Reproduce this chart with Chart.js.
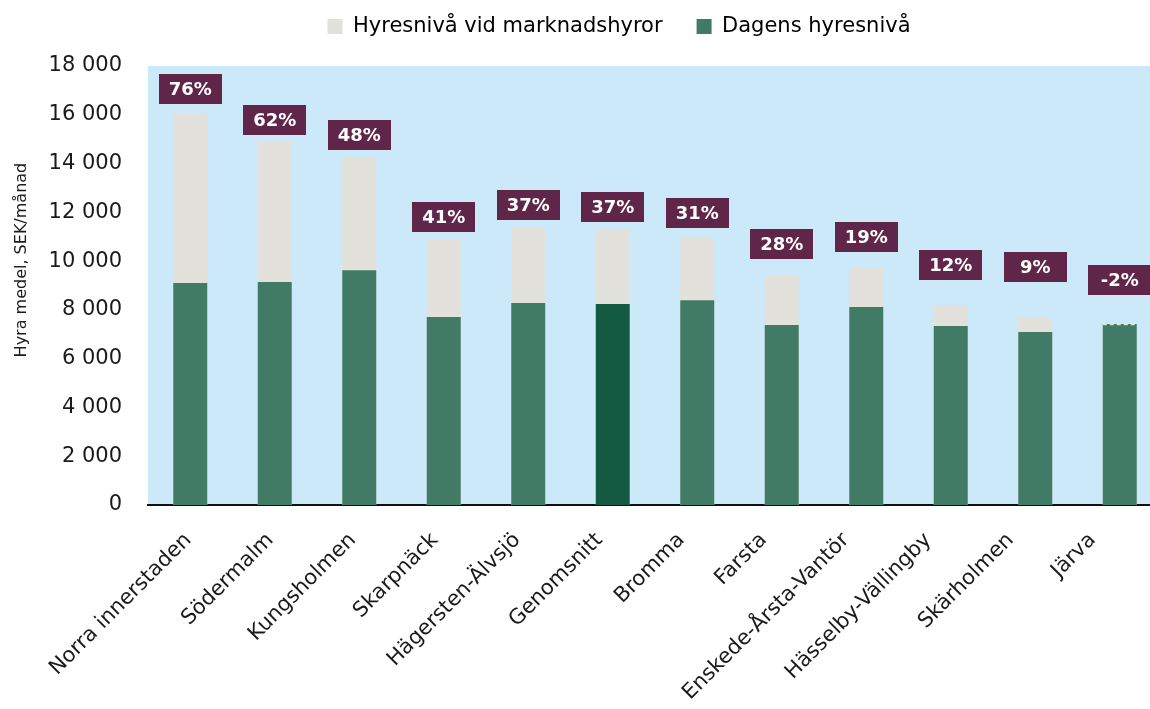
<!DOCTYPE html>
<html>
<head>
<meta charset="utf-8">
<script src="https://cdn.jsdelivr.net/npm/chart.js@4/dist/chart.umd.min.js"></script>
<style>
  html, body { margin: 0; padding: 0; background: #ffffff; }
  #wrap { width: 1150px; height: 709px; overflow: hidden; position: relative; }
  canvas { display: block; }
</style>
</head>
<body>
<div id="wrap"><canvas id="c" width="1162" height="709"></canvas></div>
<script>
// ---- data ----
const categories = ['Norra innerstaden', 'Södermalm', 'Kungsholmen', 'Skarpnäck', 'Hägersten-Älvsjö', 'Genomsnitt', 'Bromma', 'Farsta', 'Enskede-Årsta-Vantör', 'Hässelby-Vällingby', 'Skärholmen', 'Järva'];
const currentRent = [9100, 9140, 9630, 7710, 8280, 8240, 8400, 7380, 8120, 7340, 7090, 7420];
const marketRent = [16030, 14880, 14270, 10900, 11400, 11320, 10990, 9430, 9760, 8200, 7710, 7270];
const changeLabels = ['76%', '62%', '48%', '41%', '37%', '37%', '31%', '28%', '19%', '12%', '9%', '-2%'];
const labelAnchor = [17060, 15785, 15170, 11810, 12300, 12220, 11970, 10700, 10990, 9840, 9760, 9220];
const yTicks = [0, 2000, 4000, 6000, 8000, 10000, 12000, 14000, 16000, 18000];

const FONT = "'DejaVu Sans', Verdana, sans-serif";
const GREEN = '#417b66';
const GREEN_DARK = '#145a42';
const BEIGE = '#e3e1db';
const PURPLE = '#5f2649';
const BG = '#cce9f9';

const bgPlugin = {
  id: 'areaBg',
  beforeDraw(chart) {
    const {ctx, chartArea: a} = chart;
    ctx.save();
    ctx.fillStyle = BG;
    ctx.fillRect(a.left, a.top, a.right - a.left, a.bottom - a.top);
    ctx.restore();
  }
};

// layout tweaks: legend placement and category label spacing
const layoutTweaks = {
  id: 'layoutTweaks',
  afterLayout(chart) {
    const lg = chart.legend;
    if (lg) {
      const dx = 619 - (lg.left + lg.right) / 2;
      lg.left += dx; lg.right += dx;
      lg.top -= 19; lg.bottom -= 19;
    }
  },
  beforeDraw(chart) {
    const xs = chart.scales.x;
    const items = xs.getLabelItems(chart.chartArea);
    if (items._tweaked || !items.length) return;
    const x0 = items[0].options.translation[0];
    items.forEach(it => {
      const t = it.options.translation;
      t[0] = x0 + (t[0] - x0) * 0.973 - 2;
    });
    items._tweaked = true;
  }
};

const labelPlugin = {
  id: 'changeBoxes',
  afterDatasetsDraw(chart) {
    const {ctx, scales: {x, y}} = chart;
    ctx.save();
    const metaCur = chart.getDatasetMeta(0);
    categories.forEach((c, i) => {
      if (marketRent[i] < currentRent[i]) {
        const bar = metaCur.data[i];
        const half = bar.width / 2;
        ctx.strokeStyle = BEIGE;
        ctx.lineWidth = 1.5;
        ctx.setLineDash([4, 3]);
        ctx.beginPath();
        ctx.moveTo(bar.x - half, bar.y + 0.5);
        ctx.lineTo(bar.x + half, bar.y + 0.5);
        ctx.stroke();
        ctx.setLineDash([]);
      }
    });
    ctx.font = "bold 18px " + FONT;
    ctx.textAlign = 'center';
    ctx.textBaseline = 'middle';
    categories.forEach((c, i) => {
      const cx = x.getPixelForValue(i);
      const cy = y.getPixelForValue(labelAnchor[i]);
      const w = 63, h = 30;
      ctx.fillStyle = PURPLE;
      ctx.fillRect(Math.round(cx - w / 2), Math.round(cy - h / 2), w, h);
      ctx.fillStyle = '#ffffff';
      ctx.fillText(changeLabels[i], cx, cy + 1);
    });
    ctx.restore();
  }
};

new Chart(document.getElementById('c'), {
  type: 'bar',
  data: {
    labels: categories,
    datasets: [
      {
        label: 'Dagens hyresnivå',
        data: currentRent,
        backgroundColor: categories.map(c => c === 'Genomsnitt' ? GREEN_DARK : GREEN),
        borderWidth: 0,
        categoryPercentage: 1,
        barPercentage: 0.402
      },
      {
        label: 'Hyresnivå vid marknadshyror',
        data: marketRent,
        backgroundColor: BEIGE,
        borderWidth: 0,
        categoryPercentage: 1,
        barPercentage: 0.402
      }
    ]
  },
  options: {
    responsive: false,
    animation: false,
    devicePixelRatio: 1,
    layout: { padding: { top: 0, left: 0, right: 0, bottom: 0 } },
    plugins: {
      tooltip: { enabled: false },
      legend: {
        position: 'top',
        reverse: true,
        labels: {
          font: { family: FONT, size: 21 },
          color: '#1a1a1a',
          boxWidth: 15,
          boxHeight: 15,
          padding: 34,
          generateLabels(chart) {
            return chart.data.datasets.map((ds, i) => ({
              text: ds.label,
              fillStyle: i === 0 ? GREEN : BEIGE,
              strokeStyle: 'rgba(0,0,0,0)',
              lineWidth: 0,
              hidden: false,
              datasetIndex: i
            }));
          }
        }
      }
    },
    scales: {
      x: {
        stacked: true,
        grid: { display: true, drawOnChartArea: false, drawTicks: false },
        border: { display: true, color: '#111111', width: 2 },
        ticks: {
          autoSkip: false,
          maxRotation: 45,
          minRotation: 45,
          padding: 23,
          color: '#1a1a1a',
          font: { family: FONT, size: 21 }
        },
        afterFit(scale) { scale.height = 204; scale.paddingBottom = 0; }
      },
      y: {
        stacked: false,
        min: 0,
        max: 18000,
        afterBuildTicks(scale) { scale.ticks = yTicks.map(v => ({ value: v })); },
        grid: { display: false },
        border: { display: false },
        ticks: {
          padding: 18,
          color: '#1a1a1a',
          font: { family: FONT, size: 21 },
          callback: v => String(v).replace(/\B(?=(\d{3})+(?!\d))/g, ' ')
        },
        title: {
          display: true,
          text: '\u00a0\u00a0\u00a0\u00a0\u00a0\u00a0\u00a0\u00a0\u00a0\u00a0Hyra medel, SEK/månad',
          color: '#1a1a1a',
          font: { family: FONT, size: 16 },
          padding: { top: 12, bottom: 0 }
        },
        afterFit(scale) { scale.width = 148; scale.paddingTop = 66; }
      }
    }
  },
  plugins: [bgPlugin, layoutTweaks, labelPlugin]
});
</script>
</body>
</html>
